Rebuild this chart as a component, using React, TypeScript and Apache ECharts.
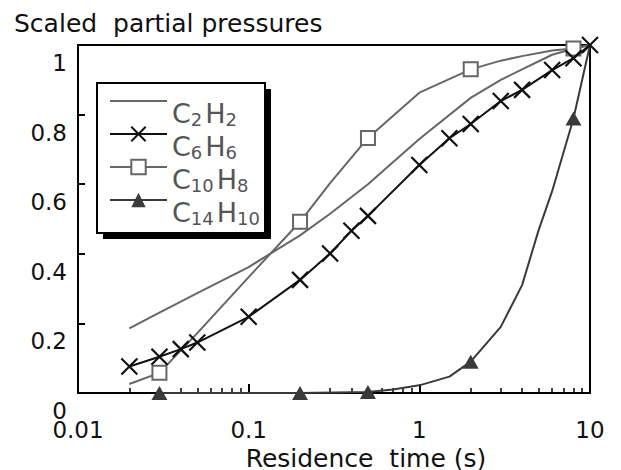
import React, { useEffect, useRef } from 'react';
import * as echarts from 'echarts';

// ---- data ----
const seriesNames = ['C2H2', 'C6H6', 'C10H8', 'C14H10'];

const c2h2Time = [0.02, 0.03, 0.05, 0.1, 0.2, 0.3, 0.5, 1, 2, 3, 4, 6, 8, 10];
const c2h2Value = [0.186, 0.231, 0.287, 0.362, 0.453, 0.515, 0.6, 0.73, 0.848, 0.9, 0.93, 0.972, 0.989, 1.0];

const c6h6Time = [0.02, 0.03, 0.04, 0.05, 0.1, 0.2, 0.3, 0.4, 0.5, 1, 1.5, 2, 3, 4, 6, 8, 10];
const c6h6Value = [0.076, 0.104, 0.126, 0.145, 0.219, 0.325, 0.401, 0.466, 0.509, 0.655, 0.732, 0.773, 0.839, 0.871, 0.928, 0.962, 1.0];

const c10h8Time = [0.02, 0.03, 0.05, 0.1, 0.2, 0.3, 0.5, 1, 2, 3, 4, 6, 8, 10];
const c10h8Value = [0.026, 0.058, 0.172, 0.333, 0.492, 0.603, 0.733, 0.863, 0.93, 0.955, 0.968, 0.984, 0.99, 1.0];
const c10h8Marked = [0.03, 0.2, 0.5, 2, 8];

const c14h10Time = [0.03, 0.2, 0.5, 0.7, 1, 1.5, 2, 3, 4, 5, 6, 8, 10];
const c14h10Value = [0, 0, 0.003, 0.01, 0.022, 0.047, 0.09, 0.19, 0.31, 0.468, 0.58, 0.789, 1.0];
const c14h10Marked = [0.03, 0.2, 0.5, 2, 8];

const xTickLabels = ['0.01', '0.1', '1', '10'];
const yTickLabels = ['0', '0.2', '0.4', '0.6', '0.8', '1'];

const FONT = 'DejaVu Sans, Liberation Sans, Arial, sans-serif';

function pairs(t: number[], v: number[], marked?: number[]) {
  return t.map((x, i) => {
    if (!marked || marked.includes(x)) return [x, v[i]];
    return { value: [x, v[i]], symbol: 'none' };
  });
}

export default function App() {
  const ref = useRef<HTMLDivElement>(null);
  useEffect(() => {
    if (!ref.current) return;
    const chart = echarts.init(ref.current, null, { renderer: 'svg' });
    const option: any = {
      animation: false,
      backgroundColor: '#fff',
      title: {
        text: 'Scaled  partial pressures',
        left: 14,
        top: 11,
        padding: 0,
        textStyle: { fontFamily: FONT, fontSize: 25, fontWeight: 'normal', color: '#111' },
      },
      grid: {
        left: 78,
        right: 31,
        top: 45,
        bottom: 77,
        outerBoundsMode: 'none',
        containLabel: false,
        show: true,
        borderColor: '#000',
        borderWidth: 2,
        backgroundColor: 'transparent',
      },
      xAxis: {
        type: 'log',
        logBase: 10,
        min: 0.01,
        max: 10,
        name: 'Residence  time (s)',
        nameLocation: 'middle',
        nameGap: 52,
        nameTextStyle: { fontFamily: FONT, fontSize: 25, lineHeight: 25, color: '#111', padding: [0, 0, 0, 64] },
        axisLine: { onZero: false, lineStyle: { color: '#000', width: 2 } },
        axisTick: { show: true, inside: true, length: 9, lineStyle: { color: '#000', width: 2 } },
        minorTick: { show: true, splitNumber: 9, length: 5, lineStyle: { color: '#000', width: 1.5 } },
        splitLine: { show: false },
        axisLabel: {
          margin: 28,
          fontFamily: FONT,
          fontSize: 23,
          lineHeight: 18,
          color: '#111',
          formatter: (v: number) => {
            const idx = Math.round(Math.log10(v)) + 2;
            return xTickLabels[idx] ?? String(v);
          },
        },
      },
      yAxis: {
        type: 'value',
        min: 0,
        max: 1,
        interval: 0.2,
        axisLine: { show: true, onZero: false, lineStyle: { color: '#000', width: 2 } },
        axisTick: { show: true, inside: true, length: 7, lineStyle: { color: '#000', width: 2 } },
        splitLine: { show: false },
        axisLabel: {
          margin: 11,
          fontFamily: FONT,
          fontSize: 23,
          lineHeight: 20,
          color: '#111',
          verticalAlign: 'top',
          padding: [8, 0, 0, 0],
          formatter: (v: number) => yTickLabels[Math.round(v * 5)] ?? String(v),
        },
      },
      legend: {
        left: 109,
        top: 74,
        orient: 'vertical',
        padding: 0,
        itemWidth: 57,
        itemHeight: 18,
        itemGap: -21,
        selectedMode: false,
        data: [
          { name: 'C2H2', icon: 'path://M0 0H57V2H0Z' },
          'C6H6',
          'C10H8',
          'C14H10',
        ],
        formatter: (name: string) => name.replace(/(\d+)/g, '{s|$1}'),
        textStyle: {
          fontFamily: FONT,
          fontSize: 27,
          lineHeight: 30,
          color: '#555',
          padding: [24, 0, 0, 0],
          rich: {
            s: {
              fontFamily: FONT,
              fontSize: 18,
              lineHeight: 14,
              color: '#555',
              verticalAlign: 'bottom',
              padding: [0, 3, 0, 0],
            },
          },
        },
      },
      graphic: [
        { type: 'rect', z: 0, shape: { x: 103, y: 89, width: 168, height: 150 }, style: { fill: '#000' } },
        {
          type: 'rect',
          z: 1,
          shape: { x: 97, y: 83, width: 168, height: 150 },
          style: { fill: '#fff', stroke: '#000', lineWidth: 2 },
        },
      ],
      series: [
        {
          name: seriesNames[0],
          type: 'line',
          data: pairs(c2h2Time, c2h2Value),
          symbol: 'none',
          clip: false,
          itemStyle: { color: '#666' },
          lineStyle: { color: '#666', width: 2 },
        },
        {
          name: seriesNames[1],
          type: 'line',
          data: pairs(c6h6Time, c6h6Value),
          symbol: 'path://M0 0L16 16M16 0L0 16',
          symbolSize: 16,
          clip: false,
          z: 4,
          itemStyle: { color: '#111', borderColor: '#111', borderWidth: 2.2 },
          lineStyle: { color: '#111', width: 2 },
        },
        {
          name: seriesNames[2],
          type: 'line',
          data: pairs(c10h8Time, c10h8Value, c10h8Marked),
          symbol: 'rect',
          symbolSize: 14,
          clip: false,
          z: 3,
          itemStyle: { color: '#fff', borderColor: '#666', borderWidth: 2 },
          lineStyle: { color: '#666', width: 2 },
        },
        {
          name: seriesNames[3],
          type: 'line',
          data: pairs(c14h10Time, c14h10Value, c14h10Marked),
          symbol: 'triangle',
          symbolSize: [16, 14],
          clip: false,
          z: 3,
          itemStyle: { color: '#3a3a3a' },
          lineStyle: { color: '#3a3a3a', width: 2 },
        },
      ],
    };
    chart.setOption(option);
    return () => chart.dispose();
  }, []);
  return <div ref={ref} style={{ width: 621, height: 470, position: 'absolute', left: 0, top: 0 }} />;
}
